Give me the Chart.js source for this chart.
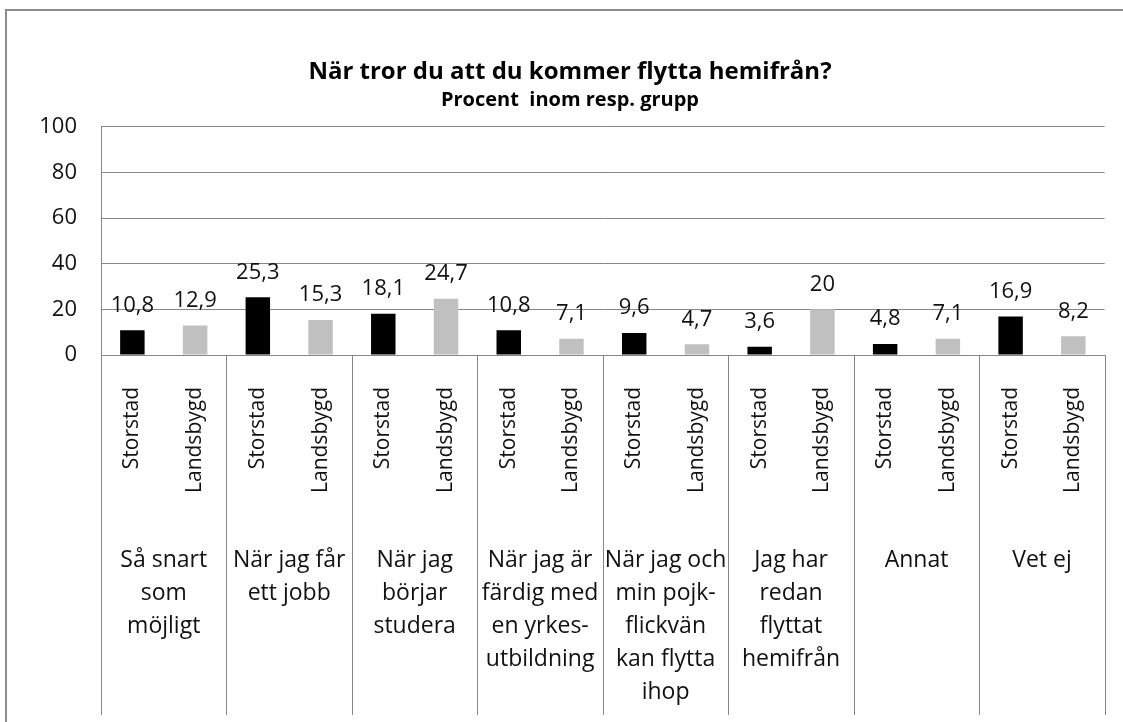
<!DOCTYPE html>
<html>
<head>
<meta charset="utf-8">
<script src="https://cdn.jsdelivr.net/npm/chart.js@4/dist/chart.umd.min.js"></script>
<style>
  html, body { margin: 0; padding: 0; background: #fff; overflow: hidden; }
  #wrap { position: relative; width: 1123px; height: 722px; }
  #frame { position: absolute; left: 5px; top: 9px; width: 1200px; height: 800px;
           border-left: 2px solid #8c8c8c; border-top: 2px solid #8c8c8c; }
  canvas { position: absolute; left: 0; top: 0; }
</style>
</head>
<body>
<div id="wrap">
  <div id="frame"></div>
  <canvas id="chart" width="1123" height="722"></canvas>
</div>
<script>
// answer groups (multi-line labels on the lower axis)
const groups = [
  ['Så snart', 'som', 'möjligt'],
  ['När jag får', 'ett jobb'],
  ['När jag', 'börjar', 'studera'],
  ['När jag är', 'färdig med', 'en yrkes-', 'utbildning'],
  ['När jag och', 'min pojk-', 'flickvän', 'kan flytta', 'ihop'],
  ['Jag har', 'redan', 'flyttat', 'hemifrån'],
  ['Annat'],
  ['Vet ej']
];
const seriesNames = ['Storstad', 'Landsbygd'];
const storstad = [10.8, 25.3, 18.1, 10.8, 9.6, 3.6, 4.8, 16.9];
const landsbygd = [12.9, 15.3, 24.7, 7.1, 4.7, 20, 7.1, 8.2];
const yTicks = [0, 20, 40, 60, 80, 100];

const FONT = '"Open Sans", "DejaVu Sans", sans-serif';
const GRID = '#868686';

// one slot per (group, series) pair
const subLabels = [];
const blackData = [];
const greyData = [];
groups.forEach((g, i) => {
  subLabels.push(seriesNames[0], seriesNames[1]);
  blackData.push(storstad[i], null);
  greyData.push(null, landsbygd[i]);
});

const fmt = v => String(v).replace('.', ',');

// values above the bars + group separators running down through both x axes
const extras = {
  id: 'extras',
  afterDatasetsDraw(chart) {
    const ctx = chart.ctx;
    ctx.save();
    ctx.font = '22px ' + FONT;
    ctx.fillStyle = '#111';
    ctx.textAlign = 'center';
    ctx.textBaseline = 'middle';
    chart.data.datasets.forEach((ds, di) => {
      chart.getDatasetMeta(di).data.forEach((el, i) => {
        if (ds.data[i] == null) return;
        ctx.fillText(fmt(ds.data[i]), el.x, el.y - 25);
      });
    });
    ctx.restore();
  },
  afterDraw(chart) {
    const ctx = chart.ctx;
    const x2 = chart.scales.x2;
    const area = chart.chartArea;
    ctx.save();
    ctx.strokeStyle = GRID;
    ctx.lineWidth = 1;
    for (let i = 0; i <= groups.length; i++) {
      let px;
      if (i === 0) px = area.left;
      else if (i === groups.length) px = area.right;
      else px = (x2.getPixelForTick(i - 1) + x2.getPixelForTick(i)) / 2;
      px = Math.round(px) + 0.5;
      ctx.beginPath();
      ctx.moveTo(px, area.bottom);
      ctx.lineTo(px, x2.bottom);
      ctx.stroke();
    }
    ctx.restore();
  }
};

new Chart(document.getElementById('chart'), {
  type: 'bar',
  data: {
    labels: subLabels,
    datasets: [
      { label: seriesNames[0], data: blackData, backgroundColor: '#000000' },
      { label: seriesNames[1], data: greyData, backgroundColor: '#c0c0c0' }
    ]
  },
  options: {
    responsive: false,
    animation: false,
    layout: { padding: { left: 32, right: 15, top: 0, bottom: 7 } },
    datasets: { bar: { grouped: false, categoryPercentage: 1, barPercentage: 0.39 } },
    plugins: {
      legend: { display: false },
      tooltip: { enabled: false },
      title: {
        display: true,
        text: 'När tror du att du kommer flytta hemifrån?',
        color: '#000',
        font: { family: FONT, size: 24, weight: 'bold', lineHeight: 1.2 },
        padding: { top: 58, bottom: 0 }
      },
      subtitle: {
        display: true,
        text: 'Procent  inom resp. grupp',
        color: '#000',
        font: { family: FONT, size: 20, weight: 'bold', lineHeight: 1.2 },
        padding: { top: 1, bottom: 15 }
      }
    },
    scales: {
      y: {
        min: 0, max: 100,
        afterBuildTicks: s => { s.ticks = yTicks.map(v => ({ value: v })); },
        afterFit: s => { s.width = 69; },
        grid: { color: GRID, drawTicks: false },
        border: { color: GRID },
        ticks: { color: '#111', padding: 24, font: { family: FONT, size: 22 } }
      },
      x: {
        weight: 0,
        afterFit: s => { s.height = 145; },
        grid: { display: false },
        border: { color: GRID },
        ticks: {
          autoSkip: false, minRotation: 90, maxRotation: 90, padding: 24,
          color: '#111', font: { family: FONT, size: 21 }
        }
      },
      x2: {
        type: 'category',
        labels: groups,
        position: 'bottom',
        weight: 1,
        offset: true,
        afterFit: s => { s.height = 215; },
        grid: { display: false },
        border: { display: false },
        ticks: {
          autoSkip: false, maxRotation: 0, padding: 36,
          color: '#111', font: { family: FONT, size: 23, lineHeight: 1.43 }
        }
      }
    }
  },
  plugins: [extras]
});
</script>
</body>
</html>
